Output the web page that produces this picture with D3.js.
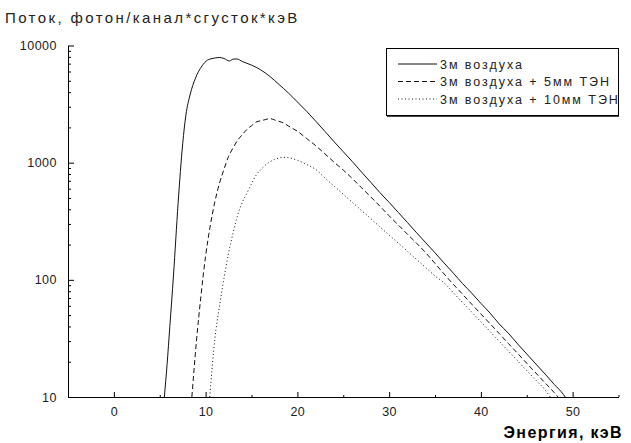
<!DOCTYPE html>
<html><head><meta charset="utf-8">
<script src="https://cdn.jsdelivr.net/npm/d3@7"></script>
<style>
body{margin:0;background:#fff;}
svg{display:block;font-family:"Liberation Sans",Arial,sans-serif;}
</style></head>
<body>
<svg id="c" width="631" height="443"></svg>
<script>
// ---- data ----
const seriesNames = ["3м воздуха", "3м воздуха + 5мм ТЭН", "3м воздуха + 10мм ТЭН"];
const energy0 = [5.5,5.8,6.1,6.5,7.0,7.5,7.85,8.3,8.9,9.6,10.2,10.6,11.0,11.5,12.0,12.6,13.0,13.4,14.0,15,16,17,18,19,20,21,22,23,24,25,26,27,28,29,30,31,32,33,34,35,36,37,38,39,40,41,42,43,44,45,46,47,48,49,49.3];
const flux0   = [10,19,40,110,450,1450,2550,3780,5280,6680,7500,7700,7820,7900,7750,7380,7650,7680,7300,6800,6200,5450,4650,3950,3300,2750,2260,1850,1510,1240,1020,830,680,555,458,376,308,252,207,170,139,114,93,77,63,52,42,35,28.4,23.3,19.1,15.7,12.8,10.5,9.7];
const energy1 = [8.5,9.0,9.5,10.0,10.5,11.0,11.5,12.0,12.5,13.0,13.5,14.0,14.5,15.0,15.5,16.0,16.5,17.0,17.5,18.0,18.5,19,20,21,22,23,24,25,26,27,28,29,30,31,32,33,34,35,36,37,38,39,40,41,42,43,44,45,46,47,48,48.5];
const flux1   = [10,30,74,160,288,461,664,877,1130,1340,1556,1734,1920,2065,2222,2276,2330,2380,2317,2250,2180,2060,1855,1610,1395,1190,1010,865,730,610,510,425,352,294,245,205,170,138,112,91.5,75.4,62,51.2,42.2,34.8,28.6,23.6,19.4,16,13.2,10.9,9.8];
const energy2 = [10.45,11.0,11.5,12.0,12.5,13.0,13.5,14.0,14.5,15.0,15.5,16.0,16.5,17.0,17.5,18.0,18.5,19.0,19.5,20,21,22,23,24,25,26,27,28,29,30,31,32,33,34,35,36,37,38,39,40,41,42,43,44,45,46,47,47.6];
const flux2   = [10,31,59,103,169,253,359,458,550,660,780,870,950,1015,1065,1095,1110,1105,1080,1050,965,875,741,631,538,458,390,333,283,241,206,175,149,127,108,94,77.6,64,53,43.8,36.2,29.9,24.7,20.4,16.8,13.9,11.5,9.9];
const xMajorTicks = [0,10,20,30,40,50];
const xMinorTicks = [-5,5,15,25,35,45,55];
const yMajorTicks = [10,100,1000,10000];
const yMinorTicks = [20,30,40,50,60,70,80,90,200,300,400,500,600,700,800,900,2000,3000,4000,5000,6000,7000,8000,9000];
const yTitle = "Поток, фотон/канал*сгусток*кэВ";
const xTitle = "Энергия, кэВ";

// ---- layout ----
const svg = d3.select("#c");
const x = d3.scaleLinear().domain([-5,55]).range([68,618.5]);
const y = d3.scaleLog().domain([10,10000]).range([397,45.5]);
const styles = [null, "5,3", "1,2.5"];
const series = [
  {e:energy0, f:flux0},
  {e:energy1, f:flux1},
  {e:energy2, f:flux2}
];

svg.append("defs").append("clipPath").attr("id","clip")
  .append("rect").attr("x",68).attr("y",40).attr("width",551).attr("height",357);

// axes
const gy = svg.append("g").attr("transform","translate(68,0)");
gy.call(d3.axisLeft(y).tickValues(yMinorTicks).tickSizeInner(-3).tickSizeOuter(0).tickFormat(""));
gy.call(g=>g.select(".domain").remove());
const gy2 = svg.append("g").attr("transform","translate(68,0)");
gy2.call(d3.axisLeft(y).tickValues(yMajorTicks).tickSizeInner(-6).tickSizeOuter(0).tickPadding(11).tickFormat(d3.format("d")));

const gx = svg.append("g").attr("transform","translate(0,397)");
gx.call(d3.axisBottom(x).tickValues(xMinorTicks).tickSizeInner(-2).tickSizeOuter(0).tickFormat(""));
gx.call(g=>g.select(".domain").remove());
const gx2 = svg.append("g").attr("transform","translate(0,397)");
gx2.call(d3.axisBottom(x).tickValues(xMajorTicks).tickSizeInner(-5).tickSizeOuter(0).tickPadding(10));

svg.selectAll(".tick text").attr("font-family","Liberation Sans, Arial, sans-serif").attr("font-size","12.5px").attr("letter-spacing","0.5px").attr("fill","#222");
svg.selectAll(".domain, .tick line").attr("stroke","#000").attr("stroke-width",1);

// lines
const line = d3.line().x((d)=>x(d[0])).y((d)=>y(d[1])).curve(d3.curveMonotoneX);
const plot = svg.append("g").attr("clip-path","url(#clip)");
series.forEach((s,i)=>{
  const pts = s.e.map((e,k)=>[e,s.f[k]]);
  plot.append("path").datum(pts).attr("d",line)
    .attr("fill","none").attr("stroke","#111").attr("stroke-width",1)
    .attr("stroke-dasharray",styles[i]);
});

// titles
svg.append("text").attr("x",5).attr("y",23).attr("font-size","15px").attr("letter-spacing","2.4px").attr("fill","#222").text(yTitle);
svg.append("text").attr("x",623).attr("y",438).attr("text-anchor","end").attr("font-size","16px").attr("font-weight","bold").attr("letter-spacing","1.4px").attr("fill","#000").text(xTitle);

// legend
const lg = svg.append("g");
lg.append("rect").attr("x",386.5).attr("y",48.5).attr("width",232).attr("height",67).attr("fill","#fff").attr("stroke","#000").attr("stroke-width",1);
lg.append("line").attr("x1",387).attr("x2",619).attr("y1",116.5).attr("y2",116.5).attr("stroke","#444").attr("stroke-width",1);
seriesNames.forEach((n,i)=>{
  const yy = 64 + i*17.5;
  lg.append("line").attr("x1",398).attr("x2",437).attr("y1",yy).attr("y2",yy)
    .attr("stroke","#111").attr("stroke-dasharray",styles[i]);
  lg.append("text").attr("x",440).attr("y",yy+4.5).attr("font-size","12.5px").attr("letter-spacing","1.95px").attr("fill","#222").text(n);
});
</script>
</body></html>
